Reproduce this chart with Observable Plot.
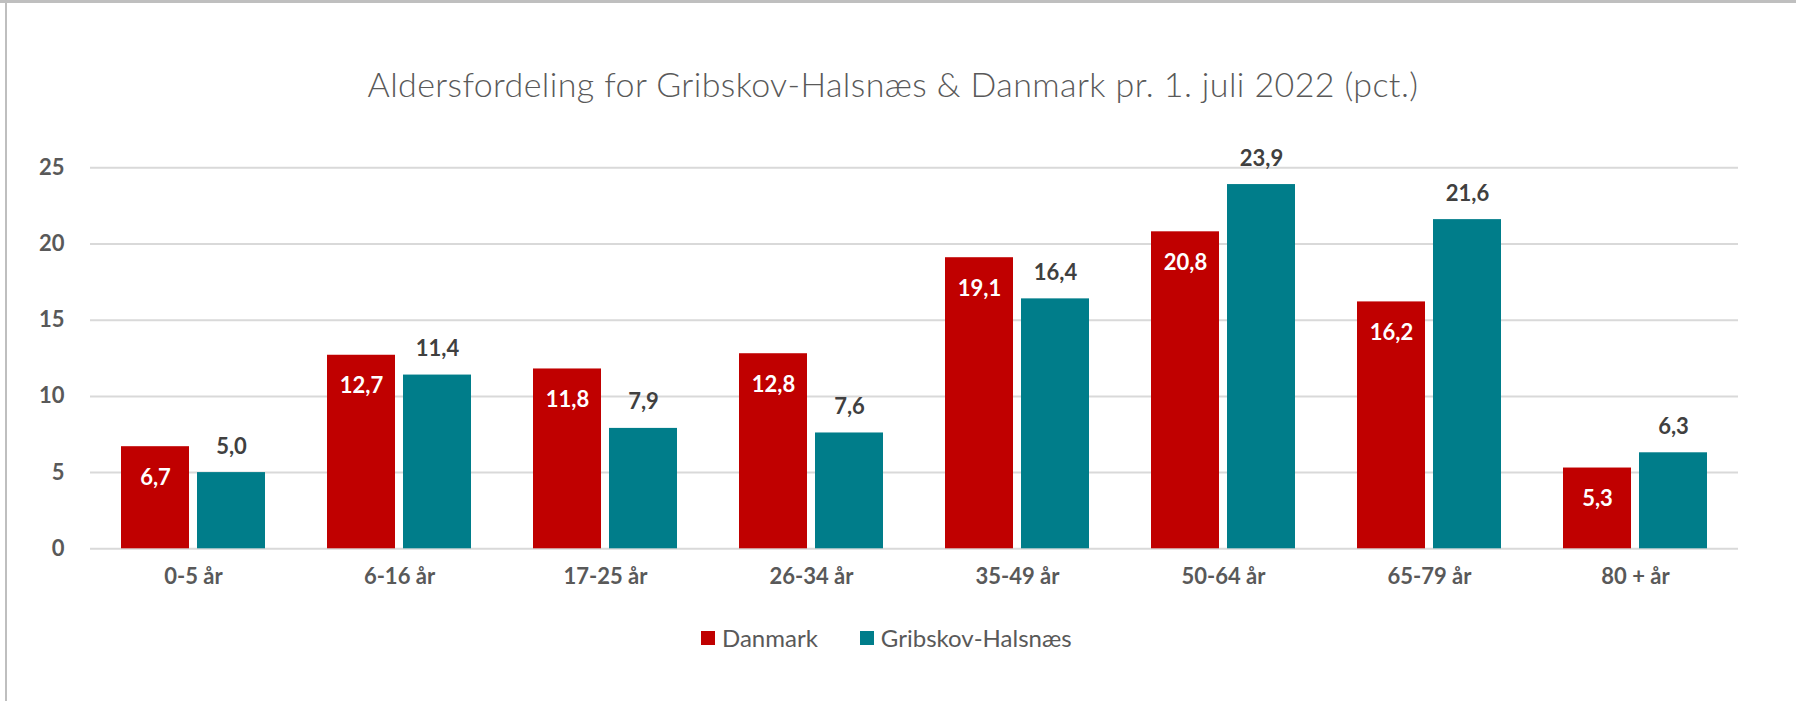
<!DOCTYPE html>
<html><head><meta charset="utf-8">
<script src="https://cdn.jsdelivr.net/npm/d3@7"></script>
<script src="https://cdn.jsdelivr.net/npm/@observablehq/plot@0.6"></script>
<style>
body{margin:0;background:#fff;}
#wrap{position:relative;width:1796px;height:701px;overflow:hidden;font-family:Lato,"Open Sans",sans-serif;background:#fff;}
#topb{position:absolute;left:0;top:0;width:1796px;height:3px;background:#bfbfbf;}
#leftb{position:absolute;left:5px;top:0;width:2px;height:701px;background:#bfbfbf;}
#title{position:absolute;left:0;width:1786px;top:67px;line-height:34px;text-align:center;font-size:34px;letter-spacing:0.4px;font-weight:300;color:#595959;white-space:nowrap;}
#chart{position:absolute;left:0;top:110px;}
#legend{position:absolute;top:626px;left:701px;display:flex;align-items:center;font-size:24px;line-height:24px;color:#595959;}
#legend .sw{width:14px;height:14px;margin-right:7px;}
#legend .it{display:flex;align-items:center;margin-right:42px;}
</style></head>
<body>
<div id="wrap">
  <div id="topb"></div>
  <div id="leftb"></div>
  <div id="title">Aldersfordeling for Gribskov-Halsnæs &amp; Danmark pr. 1. juli 2022 (pct.)</div>
  <div id="chart"></div>
  <div id="legend"></div>
</div>
<script>
const ages = ["0-5 år","6-16 år","17-25 år","26-34 år","35-49 år","50-64 år","65-79 år","80 + år"];
const series = ["Danmark","Gribskov-Halsnæs"];
const danmark = [6.7,12.7,11.8,12.8,19.1,20.8,16.2,5.3];
const gribskov = [5.0,11.4,7.9,7.6,16.4,23.9,21.6,6.3];
const colors = ["#C00000","#007D8A"];
const yTicks = [0,5,10,15,20,25];

const rows = ages.flatMap((a,i)=>[
  {age:a, series:series[0], value:danmark[i]},
  {age:a, series:series[1], value:gribskov[i]}
]);
const fmt = v => v.toFixed(1).replace(".", ",");

const plot = Plot.plot({
  width:1796, height:490,
  marginLeft:89, marginRight:57, marginTop:57.3, marginBottom:51.7,
  style:{fontFamily:"Lato, 'Open Sans', sans-serif", fontSize:"22px", fontWeight:"bold", color:"#595959", background:"transparent", overflow:"visible"},
  fx:{domain:ages, padding:0, label:null, axis:"bottom", tickSize:0, tickPadding:20},
  x:{domain:series, paddingInner:0.104, paddingOuter:0.391, axis:null},
  y:{domain:[0,25], ticks:5, tickSize:0, tickPadding:26, label:null},
  color:{domain:series, range:colors},
  marks:[
    Plot.ruleY(yTicks, {stroke:"#d9d9d9", strokeWidth:2}),
    Plot.barY(rows, {fx:"age", x:"series", y:"value", fill:"series"}),
    Plot.text(rows.filter(d=>d.series===series[1]), {fx:"age", x:"series", y:"value", text:d=>fmt(d.value), dy:-26, fill:"#404040", fontSize:22, fontWeight:"bold"}),
    Plot.text(rows.filter(d=>d.series===series[0]), {fx:"age", x:"series", y:"value", text:d=>fmt(d.value), dy:31, fill:"white", fontSize:22, fontWeight:"bold"})
  ]
});
document.getElementById("chart").appendChild(plot);

const leg = document.getElementById("legend");
series.forEach((s,i)=>{
  const it = document.createElement("div"); it.className="it";
  const sw = document.createElement("div"); sw.className="sw"; sw.style.background=colors[i];
  const tx = document.createElement("span"); tx.textContent=s;
  it.appendChild(sw); it.appendChild(tx); leg.appendChild(it);
});
</script>
</body></html>
